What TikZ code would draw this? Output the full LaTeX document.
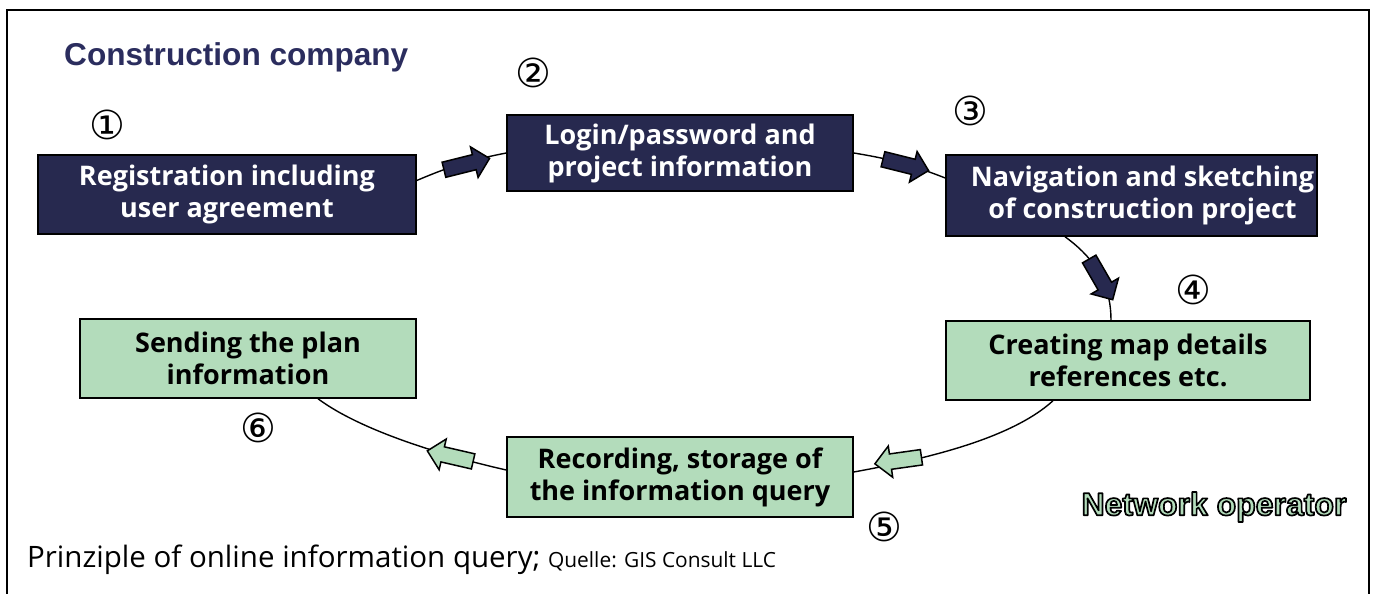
\documentclass[tikz,border=0pt]{standalone}
\usepackage{fontspec}
\setmainfont{Open Sans}
\newfontfamily\arialfont{Liberation Sans}
\newfontfamily\symfont{DejaVu Sans}
\usetikzlibrary{shapes.arrows}
\definecolor{navy}{HTML}{27294F}
\definecolor{titlenavy}{HTML}{2B2D5E}
\definecolor{mint}{HTML}{B3DCBB}
\begin{document}
\begin{tikzpicture}[x=1pt,y=-1pt,
 box/.style={draw=black, line width=1.5pt, align=center, inner sep=0pt, font=\fontsize{27}{32}\selectfont\bfseries},
 navybox/.style={box, fill=navy, text=white},
 greenbox/.style={box, fill=mint, text=black},
 conn/.style={line width=1.4pt},
 blockarrow/.style={single arrow, draw=black, line width=1.5pt, minimum height=47pt, minimum width=30pt, single arrow head extend=8pt, single arrow head indent=0pt, inner sep=0pt},
 navyarrow/.style={blockarrow, fill=navy},
 greenarrow/.style={blockarrow, fill=mint},
 num/.style={font=\symfont\fontsize{40}{40}\selectfont, inner sep=0pt}]
\useasboundingbox (0,0) rectangle (1374,594);
\draw[line width=2.5pt] (7,620) -- (7,10) -- (1369,10) -- (1369,620);

\node[anchor=base west, inner sep=0pt, text=titlenavy, font=\arialfont\bfseries\fontsize{31.6}{36}\selectfont] (title) at (64,66) {Construction company};

\node[navybox, minimum width=378pt, minimum height=79pt] (r1) at (227,194.5) {Registration including\\user agreement};
\node[navybox, minimum width=346pt, minimum height=76pt] (r2) at (680,153) {Login/password and\\project information};
\node[navybox, minimum width=371pt, minimum height=81pt] (r3) at (1131.5,195.5) {\hspace*{22pt}Navigation and sketching\\\hspace*{22pt}of construction project};
\node[greenbox, minimum width=364pt, minimum height=79pt] (r4) at (1128,360.5) {Creating map details\\references etc.};
\node[greenbox, minimum width=346pt, minimum height=80pt] (r5) at (680,477) {Recording, storage of\\the information query};
\node[greenbox, minimum width=336pt, minimum height=79pt] (r6) at (248,358.5) {Sending the plan\\information};

\draw[conn] ([yshift=14pt]r1.east) to[bend left=6] (r2.west);
\draw[conn] (r2.east) to[bend left=6] ([yshift=17.5pt]r3.west);
\draw[conn] ([xshift=-66.5pt]r3.south) .. controls (1100,262) and (1111,290) .. ([xshift=-17pt]r4.north);
\draw[conn] ([xshift=-75pt]r4.south) .. controls (1010,440) and (920,460) .. ([yshift=5pt]r5.east);
\draw[conn] ([yshift=7pt]r5.west) .. controls (440,455) and (360,430) .. ([xshift=70pt]r6.south);

\node[navyarrow, rotate=14] (a1) at (463,165) {\vrule width 0pt height 7pt depth 7pt};
\node[navyarrow, rotate=-14] (a2) at (902,164) {\vrule width 0pt height 7pt depth 7pt};
\node[navyarrow, rotate=-60] (a3) at (1099,276) {\vrule width 0pt height 7pt depth 7pt};
\node[greenarrow, rotate=188] (a4) at (902,460) {\vrule width 0pt height 7pt depth 7pt};
\node[greenarrow, rotate=167] (a5) at (454,457) {\vrule width 0pt height 7pt depth 7pt};

\node[num] (n1) at (107,125) {①};
\node[num] (n2) at (533,73) {②};
\node[num] (n3) at (970,111) {③};
\node[num] (n4) at (1193,290) {④};
\node[num] (n5) at (884,527) {⑤};
\node[num] (n6) at (258,428) {⑥};

\node[inner sep=0pt, font=\arialfont\bfseries\fontsize{32}{32}\selectfont] (netop) at (1214,507) {\special{pdf:bcolor [0.702 0.863 0.733] [0 0 0]}\special{pdf:literal direct 2 Tr 1.7 w 1 j}Network operator\special{pdf:literal direct 0 Tr}\special{pdf:ecolor}};

\node[anchor=base west, inner sep=0pt, font=\fontsize{29.5}{34}\selectfont] (caption) at (27,567) {Prinziple of online information query; {\fontsize{20.9}{24}\selectfont Quelle: GIS Consult LLC}};
\end{tikzpicture}
\end{document}
